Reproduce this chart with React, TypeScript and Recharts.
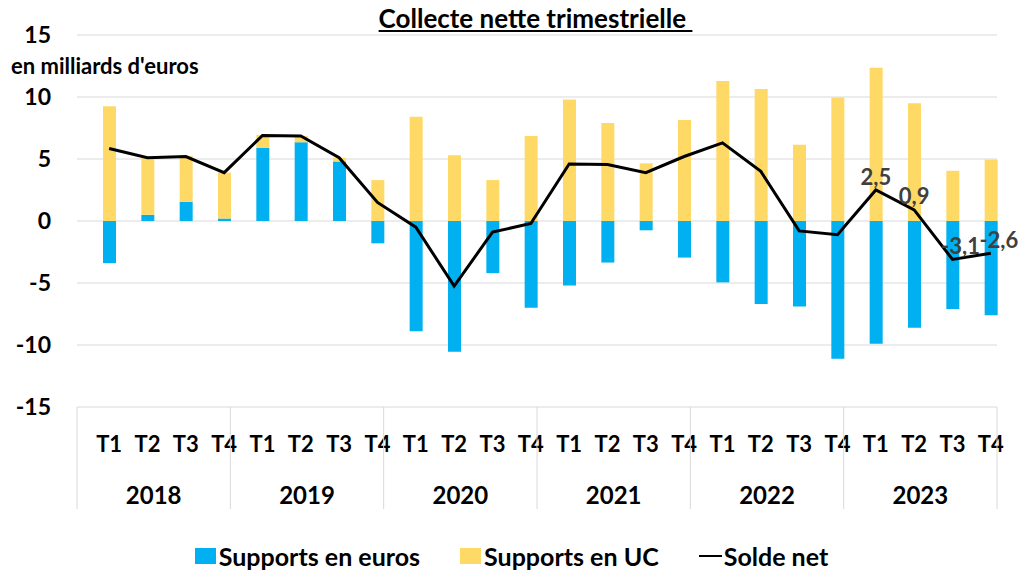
import React from 'react';
import { ComposedChart, Bar, Line, XAxis, YAxis, CartesianGrid, Legend, LabelList } from 'recharts';

const YEARS = ['2018', '2019', '2020', '2021', '2022', '2023'];
const QUARTERS = ['T1', 'T2', 'T3', 'T4'];

// milliards d'euros, par trimestre
const EUROS = [-3.4, 0.5, 1.55, 0.2, 5.9, 6.35, 4.8, -1.8, -8.9, -10.55, -4.2, -7.0, -5.2, -3.35, -0.75, -2.95, -4.95, -6.7, -6.9, -11.1, -9.9, -8.6, -7.1, -7.6];
const UC = [9.25, 4.65, 3.7, 3.7, 1.05, 0.5, 0.3, 3.3, 8.4, 5.3, 3.3, 6.85, 9.8, 7.9, 4.65, 8.15, 11.3, 10.65, 6.15, 9.95, 12.35, 9.5, 4.05, 4.95];
const NET = [5.85, 5.1, 5.2, 3.9, 6.9, 6.85, 5.1, 1.5, -0.5, -5.25, -0.9, -0.2, 4.6, 4.55, 3.9, 5.2, 6.3, 4.0, -0.8, -1.1, 2.5, 0.9, -3.1, -2.6];

const SERIES = ['Supports en euros', 'Supports en UC', 'Solde net'];
const Y_TICKS = [-15, -10, -5, 0, 5, 10, 15];

const data = EUROS.map((e, i) => ({
  key: `${YEARS[Math.floor(i / 4)]}-${QUARTERS[i % 4]}`,
  year: YEARS[Math.floor(i / 4)],
  euros: e,
  uc: UC[i],
  net: NET[i],
}));

const FONT = 'Lato, sans-serif';
const BLUE = '#00B0F0';
const GOLD = '#FFD966';
const GRID = '#D9D9D9';
const Q_AXIS_H = 57;
const YEAR_AXIS_H = 50;

const QuarterTick = (props: any) => {
  const { x, y, payload } = props;
  return (
    <text x={x} y={y + 36} textAnchor="middle" dominantBaseline="central" fontFamily={FONT} fontWeight={700} fontSize={22} fill="#000">
      {String(payload.value).split('-')[1]}
    </text>
  );
};

const YearTick = (props: any) => {
  const { x, y, payload } = props;
  const half = payload.offset ?? 0;
  const last = payload.value === YEARS[YEARS.length - 1];
  return (
    <g>
      <line x1={x - half} x2={x - half} y1={y - Q_AXIS_H} y2={y + 45} stroke={GRID} />
      {last && <line x1={x + half} x2={x + half} y1={y - Q_AXIS_H} y2={y + 45} stroke={GRID} />}
      <text x={x} y={y + 30} textAnchor="middle" dominantBaseline="central" fontFamily={FONT} fontWeight={700} fontSize={24} fill="#000">
        {payload.value}
      </text>
    </g>
  );
};

const NetLabel = (props: any) => {
  const { x, y, value, index } = props;
  if (index < 20) return null;
  const dx = value < 0 ? 8 : 0;
  return (
    <text x={x + dx} y={y - 14} textAnchor="middle" dominantBaseline="central" fontFamily={FONT} fontWeight={700} fontSize={22} fill="#404040">
      {Number(value).toFixed(1).replace('.', ',')}
    </text>
  );
};

const LegendContent = (props: any) => {
  const items = [...(props.payload || [])].sort((a: any, b: any) => SERIES.indexOf(a.value) - SERIES.indexOf(b.value));
  return (
    <div style={{ display: 'flex', justifyContent: 'center', alignItems: 'center', gap: 40, fontFamily: FONT, fontWeight: 700, fontSize: 25, color: '#000' }}>
      {items.map((item: any) => (
        <div key={item.value} style={{ display: 'flex', alignItems: 'center' }}>
          {item.type === 'line' ? (
            <span style={{ display: 'inline-block', width: 23, height: 2.5, background: item.color, marginRight: 2 }} />
          ) : (
            <span style={{ display: 'inline-block', width: 21, height: 16, background: item.color, marginRight: 3 }} />
          )}
          <span>{item.value}</span>
        </div>
      ))}
    </div>
  );
};

const App: React.FC = () => {
  return (
    <div style={{ position: 'absolute', left: 0, top: 0, width: 1023, height: 574, background: '#fff' }}>
      <div style={{ position: 'absolute', left: 0, width: 1023, top: 2, textAlign: 'center', fontFamily: FONT, fontWeight: 700, fontSize: 26, textDecoration: 'underline', whiteSpace: 'pre', zIndex: 2 }}>
        <span style={{ marginLeft: 48 }}>{'Collecte nette trimestrielle\u00a0'}</span>
      </div>
      <div style={{ position: 'absolute', left: 11, top: 52, fontFamily: FONT, fontWeight: 700, fontSize: 22, zIndex: 2 }}>
        en milliards d'euros
      </div>
      <ComposedChart
        width={1023}
        height={574}
        data={data}
        stackOffset="sign"
        margin={{ top: 35, right: 26, bottom: 60, left: 0 }}
      >
        <CartesianGrid xAxisId="q" vertical={false} stroke={GRID} />
        <XAxis
          xAxisId="q"
          dataKey="key"
          interval={0}
          height={Q_AXIS_H}
          axisLine={false}
          tickLine={false}
          tickSize={0}
          tickMargin={0}
          padding={{ left: 13, right: -13 }}
          tick={<QuarterTick />}
        />
        <XAxis
          xAxisId="year"
          dataKey="year"
          allowDuplicatedCategory={false}
          interval={0}
          height={YEAR_AXIS_H}
          axisLine={false}
          tickLine={false}
          tickSize={0}
          tickMargin={0}
          tick={<YearTick />}
        />
        <YAxis
          domain={[-15, 15]}
          ticks={Y_TICKS}
          width={77}
          axisLine={false}
          tickLine={false}
          tickSize={6}
          tickMargin={20}
          tick={{ fontFamily: FONT, fontWeight: 700, fontSize: 23, fill: '#000' }}
        />
        <Bar xAxisId="q" dataKey="euros" name="Supports en euros" stackId="s" fill={BLUE} barSize={13} isAnimationActive={false} />
        <Bar xAxisId="q" dataKey="uc" name="Supports en UC" stackId="s" fill={GOLD} barSize={13} isAnimationActive={false} />
        <Line xAxisId="q" dataKey="net" name="Solde net" type="linear" stroke="#000" strokeWidth={3} dot={false} activeDot={false} isAnimationActive={false}>
          <LabelList dataKey="net" content={<NetLabel />} />
        </Line>
        <Legend
          layout="horizontal"
          verticalAlign="middle"
          align="center"
          content={<LegendContent />}
          wrapperStyle={{ top: 541, left: 0, width: 1023 }}
        />
      </ComposedChart>
    </div>
  );
};

export default App;
